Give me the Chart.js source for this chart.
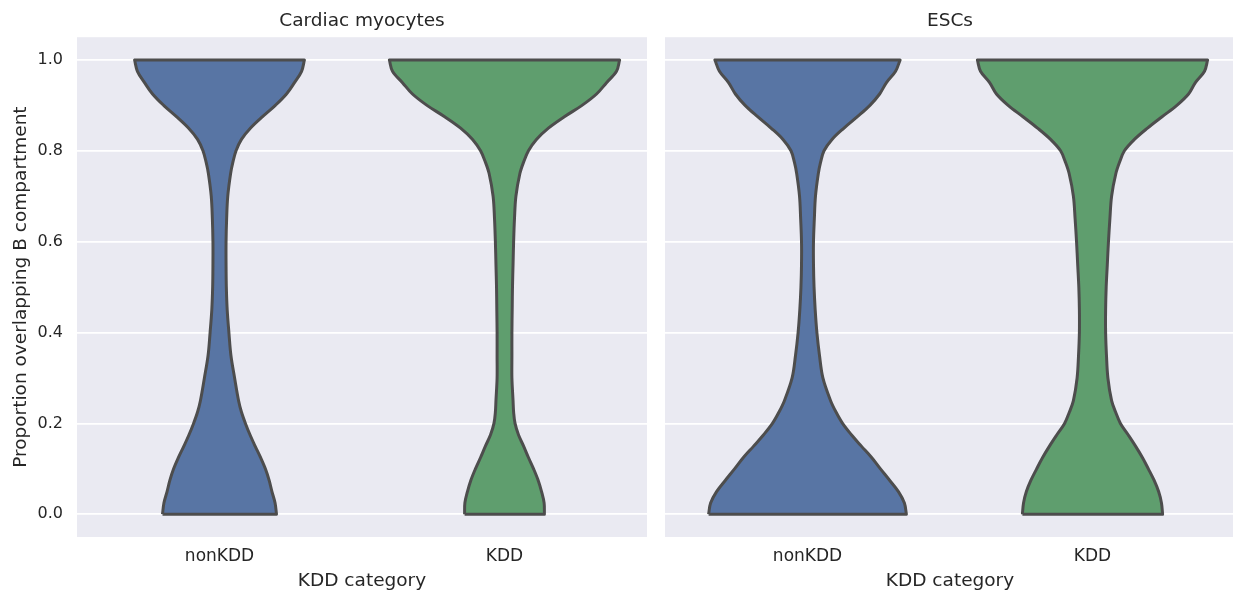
<!DOCTYPE html>
<html lang="en">
<head>
  <meta charset="UTF-8">
  <title>Proportion overlapping B compartment by KDD category</title>
  <script src="https://cdn.jsdelivr.net/npm/chart.js"></script>
  <style>
    html, body {
      margin: 0;
      padding: 0;
      background: #ffffff;
      overflow: hidden;
    }
    body {
      position: relative;
      width: 1233px;
      height: 592px;
    }
    .panel {
      position: absolute;
      top: 0;
      height: 592px;
    }
    #left { left: 0; width: 656px; }
    #right { left: 656px; width: 589px; }
  </style>
</head>
<body>

  <div class="panel" id="left"><canvas id="cardiac"></canvas></div>
  <div class="panel" id="right"><canvas id="esc"></canvas></div>

  <script>
    // panels and categories
    const panelTitles = ['Cardiac myocytes', 'ESCs'];
    const categories = ['nonKDD', 'KDD'];
    const yTicks = [0, 0.2, 0.4, 0.6, 0.8, 1.0];

    // proportion levels where the violin width was read
    const levels = [0, 0.025, 0.05, 0.075, 0.1, 0.125, 0.15, 0.175, 0.2, 0.225, 0.25, 0.3, 0.35, 0.4, 0.45, 0.5,
                    0.55, 0.6, 0.65, 0.7, 0.75, 0.775, 0.8, 0.825, 0.85, 0.875, 0.9, 0.925, 0.95, 0.975, 1];

    // half widths of each violin at those levels (in category units)
    const cardiacNonKDD = [0.200, 0.195, 0.184, 0.174, 0.161, 0.144, 0.125, 0.107, 0.091, 0.077, 0.067, 0.053, 0.040, 0.033, 0.027, 0.024,
                           0.023, 0.023, 0.025, 0.029, 0.039, 0.047, 0.058, 0.077, 0.109, 0.151, 0.196, 0.235, 0.263, 0.288, 0.298];
    const cardiacKDD    = [0.140, 0.139, 0.130, 0.118, 0.102, 0.084, 0.067, 0.049, 0.037, 0.032, 0.030, 0.026, 0.026, 0.026, 0.027, 0.028,
                           0.030, 0.032, 0.035, 0.040, 0.054, 0.067, 0.084, 0.112, 0.154, 0.210, 0.272, 0.323, 0.358, 0.393, 0.404];
    const escNonKDD     = [0.347, 0.340, 0.319, 0.288, 0.256, 0.225, 0.189, 0.154, 0.123, 0.100, 0.081, 0.054, 0.042, 0.033, 0.027, 0.023,
                           0.021, 0.021, 0.024, 0.028, 0.038, 0.046, 0.058, 0.086, 0.128, 0.175, 0.219, 0.253, 0.277, 0.309, 0.325];
    const escKDD        = [0.246, 0.242, 0.232, 0.216, 0.196, 0.175, 0.151, 0.125, 0.098, 0.081, 0.067, 0.054, 0.049, 0.046, 0.046, 0.048,
                           0.052, 0.056, 0.061, 0.067, 0.082, 0.095, 0.112, 0.147, 0.193, 0.244, 0.296, 0.337, 0.361, 0.393, 0.404];

    const colors = ['#5875a4', '#5f9e6e'];
    const textColor = '#262626';
    const fontFamily = "'DejaVu Sans', sans-serif";

    // closed outline of one violin: up the left side, across the top, down the right side
    function violin(pos, halfWidths, color) {
      const leftSide = levels.map((y, i) => ({ x: pos - halfWidths[i], y: y }));
      const rightSide = levels.map((y, i) => ({ x: pos + halfWidths[i], y: y })).reverse();
      const topL = leftSide[leftSide.length - 1];
      const topR = rightSide[0];
      const bottomL = leftSide[0];
      const bottomR = rightSide[rightSide.length - 1];
      // corners repeated so the flat top and bottom stay straight
      const points = [].concat([bottomL], leftSide, [topL, topR], rightSide, [bottomR, bottomL]);
      return {
        data: points,
        showLine: true,
        fill: 'shape',
        backgroundColor: color,
        borderColor: '#4d4d4d',
        borderWidth: 3,
        borderJoinStyle: 'round',
        tension: 0.35,
        pointRadius: 0,
        pointHoverRadius: 0
      };
    }

    const panelBackground = {
      id: 'panelBackground',
      beforeDraw(chart) {
        const a = chart.chartArea;
        const ctx = chart.ctx;
        ctx.save();
        ctx.fillStyle = '#eaeaf2';
        ctx.fillRect(a.left, a.top, a.right - a.left, a.bottom - a.top);
        ctx.restore();
      }
    };

    function makeChart(canvasId, title, nonKDD, KDD, showY) {
      new Chart(document.getElementById(canvasId), {
        type: 'scatter',
        data: {
          datasets: [
            violin(0, nonKDD, colors[0]),
            violin(1, KDD, colors[1])
          ]
        },
        options: {
          responsive: true,
          maintainAspectRatio: false,
          animation: false,
          devicePixelRatio: 1,
          layout: {
            padding: { left: showY ? 0 : 9, right: showY ? 9 : 10, top: 0, bottom: 0 }
          },
          plugins: {
            legend: { display: false },
            tooltip: { enabled: false },
            title: {
              display: true,
              text: title,
              fullSize: false,
              color: textColor,
              font: { family: fontFamily, size: 18.5, weight: 'normal' },
              padding: { top: 10, bottom: 5 }
            }
          },
          scales: {
            x: {
              type: 'linear',
              min: -0.5,
              max: 1.5,
              grid: { display: false, drawTicks: false },
              border: { display: false },
              afterBuildTicks: axis => { axis.ticks = [0, 1].map(v => ({ value: v })); },
              afterFit: axis => { axis.height = 55; },
              ticks: {
                color: textColor,
                font: { family: fontFamily, size: 17 },
                padding: 9,
                maxRotation: 0,
                callback: v => categories[v]
              },
              title: {
                display: true,
                text: 'KDD category',
                color: textColor,
                font: { family: fontFamily, size: 18.5 },
                padding: { top: 0, bottom: 0 }
              }
            },
            y: {
              min: -0.05,
              max: 1.05,
              grid: { color: '#ffffff', lineWidth: 1.8, drawTicks: false },
              border: { display: false },
              afterBuildTicks: axis => { axis.ticks = yTicks.map(v => ({ value: v })); },
              afterFit: axis => { axis.width = showY ? 77 : 0; },
              ticks: {
                display: showY,
                color: textColor,
                font: { family: fontFamily, size: 16 },
                padding: 14,
                callback: v => v.toFixed(1)
              },
              title: {
                display: showY,
                text: 'Proportion overlapping B compartment',
                color: textColor,
                font: { family: fontFamily, size: 18.5 },
                padding: { top: 10, bottom: 0 }
              }
            }
          }
        },
        plugins: [panelBackground]
      });
    }

    makeChart('cardiac', panelTitles[0], cardiacNonKDD, cardiacKDD, true);
    makeChart('esc', panelTitles[1], escNonKDD, escKDD, false);
  </script>

</body>
</html>
